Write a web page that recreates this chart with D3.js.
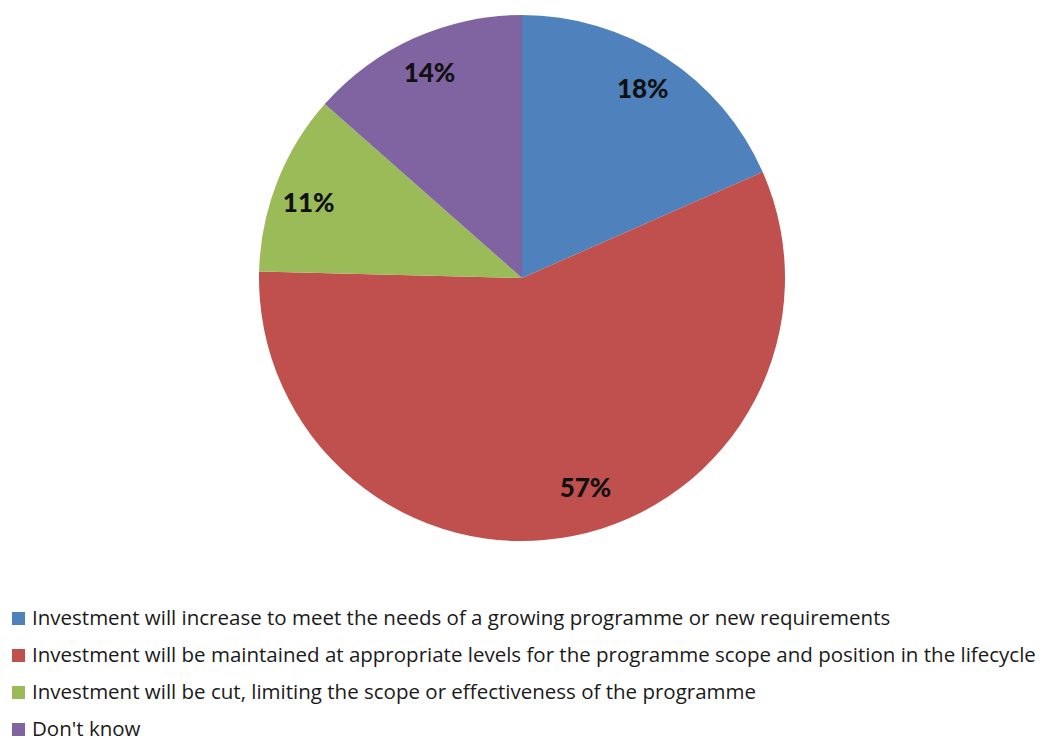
<!DOCTYPE html>
<html>
<head>
<meta charset="utf-8">
<script src="https://cdn.jsdelivr.net/npm/d3@7"></script>
<style>
  body { margin: 0; background: #fff; }
</style>
</head>
<body>
<svg id="vis" width="1045" height="742"></svg>
<script>
const categories = [
    "Investment will increase to meet the needs of a growing programme or new requirements",
    "Investment will be maintained at appropriate levels for the programme scope and position in the lifecycle",
    "Investment will be cut, limiting the scope or effectiveness of the programme",
    "Don't know"
]
const values = [18.4, 57.0, 11.1, 13.5]
const labels = ["18%", "57%", "11%", "14%"]
const colors = ["#4F81BD", "#C0504D", "#9BBB59", "#8064A2"]

const svg = d3.select("#vis")
const cx = 522, cy = 278, R = 263
// label placement tweaks: share of radius, angle nudge in degrees
const labelR = [0.852, 0.833, 0.86, 0.855]
const labelNudge = [-0.5, -5.7, -2, 0]

const pie = d3.pie().sort(null).value(d => d)
const arc = d3.arc().innerRadius(0).outerRadius(R)

let g = svg.append("g").attr("transform", `translate(${cx},${cy})`)

const arcs = pie(values)

g.selectAll("path")
    .data(arcs)
    .join("path")
    .attr("d", arc)
    .attr("fill", (d, i) => colors[i])

g.selectAll("text")
    .data(arcs)
    .join("text")
    .attr("transform", (d, i) => {
        const a = (d.startAngle + d.endAngle) / 2 + labelNudge[i] * Math.PI / 180
        const r = R * labelR[i]
        return `translate(${r * Math.sin(a)},${-r * Math.cos(a)})`
    })
    .attr("text-anchor", "middle")
    .attr("dy", "0.35em")
    .style("font-family", "Lato, 'Open Sans', sans-serif")
    .style("font-weight", "900")
    .style("font-size", "26px")
    .attr("fill", "#111")
    .text((d, i) => labels[i])

// legend
let leg = svg.append("g").attr("transform", "translate(12,618)")
let rows = leg.selectAll("g")
    .data(categories)
    .join("g")
    .attr("transform", (d, i) => `translate(0,${i * 37})`)

rows.append("rect")
    .attr("x", 0).attr("y", -6)
    .attr("width", 13).attr("height", 13)
    .attr("fill", (d, i) => colors[i])

rows.append("text")
    .attr("x", 20)
    .attr("dy", "0.35em")
    .style("font-family", "'Open Sans', sans-serif")
    .style("font-size", "20.5px")
    .attr("fill", "#1a1a1a")
    .text(d => d)
</script>
</body>
</html>
